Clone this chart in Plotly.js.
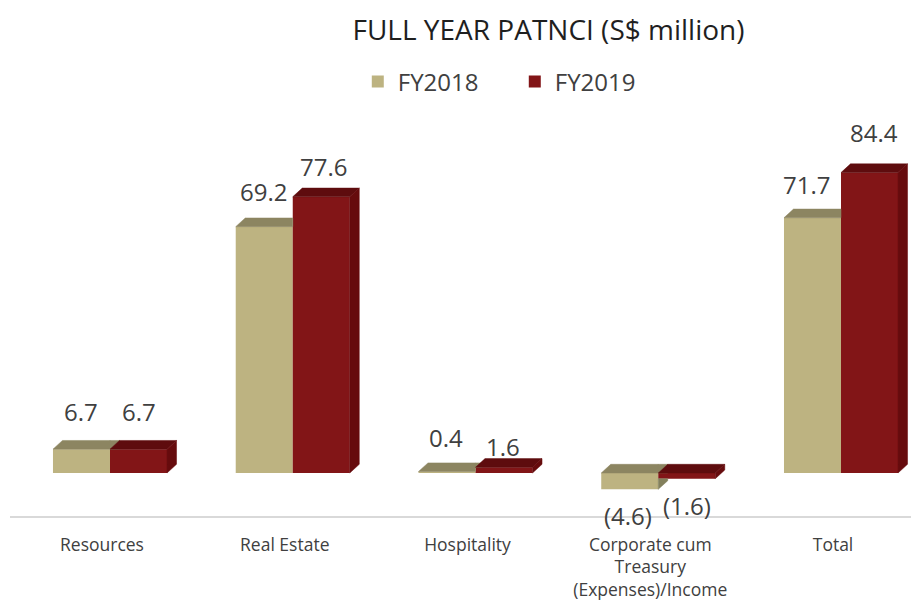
<!DOCTYPE html>
<html><head><meta charset="utf-8">
<script src="https://cdn.plot.ly/plotly-3.0.1.min.js"></script>
<style>html,body{margin:0;padding:0;background:#fff}#chart{width:911px;height:601px}</style>
</head><body><div id="chart"></div>
<script>
// ---- data ----
const categories = ['Resources', 'Real Estate', 'Hospitality', 'Corporate cum<br>Treasury<br>(Expenses)/Income', 'Total'];
const seriesNames = ['FY2018', 'FY2019'];
const fy2018 = [6.7, 69.2, 0.4, -4.6, 71.7];
const fy2019 = [6.7, 77.6, 1.6, -1.6, 84.4];
const chartTitle = 'FULL YEAR PATNCI (S$ million)';

// ---- style ----
const FRONT = ['#BDB381', '#821517'];
const TOP = ['#8C8561', '#5E0C0E'];
const SIDE = ['#83805C', '#660B0D'];
const BAR_W = 0.312;
const DEPTH_X = 0.052;   // category units
const DEPTH_Y = 2.44;    // value units
const LABEL_SHIFT = [
  [[0, 38], [-1, 35], [-1, 34], [-2, -26], [-6, 33]],
  [[0, 38], [2, 30], [-1, 21], [0, -27], [4, 40]]
];
const FONT = 'Open Sans, Noto Sans, sans-serif';

const series = [fy2018, fy2019];
const idx = categories.map((_, i) => i);
const offsets = [-BAR_W, 0];

function clip(poly, k, c, keepGE) {
  const out = [];
  const n = poly.length;
  for (let j = 0; j < n; j++) {
    const A = poly[j], B = poly[(j + 1) % n];
    const ia = keepGE ? A[k] >= c : A[k] <= c;
    const ib = keepGE ? B[k] >= c : B[k] <= c;
    if (ia) out.push(A);
    if (ia !== ib) {
      const t = (c - A[k]) / (B[k] - A[k]);
      out.push([A[0] + t * (B[0] - A[0]), A[1] + t * (B[1] - A[1])]);
    }
  }
  return out;
}
function area(p) {
  let s = 0;
  for (let j = 0; j < p.length; j++) {
    const a = p[j], b = p[(j + 1) % p.length];
    s += a[0] * b[1] - b[0] * a[1];
  }
  return Math.abs(s / 2);
}
function faces(si) {
  const tops = [], sides = [];
  series[si].forEach((v, i) => {
    const x0 = i + offsets[si], x1 = x0 + BAR_W;
    const t = Math.max(v, 0), b = Math.min(v, 0);
    const top = [[x0, t], [x1, t], [x1 + DEPTH_X, t + DEPTH_Y], [x0 + DEPTH_X, t + DEPTH_Y]];
    const side = [[x1, b], [x1, t], [x1 + DEPTH_X, t + DEPTH_Y], [x1 + DEPTH_X, b + DEPTH_Y]];
    let topPieces = [top], sidePieces = [side];
    if (si === 0) {
      // remove what the next (nearer-right) bar's front face hides
      const X1 = i + offsets[1];
      const lo = Math.min(0, series[1][i]), hi = Math.max(0, series[1][i]);
      const sub = P => {
        const right = clip(P, 0, X1, true);
        return [clip(P, 0, X1, false), clip(right, 1, hi, true), clip(right, 1, lo, false)];
      };
      topPieces = sub(top);
      sidePieces = sub(side);
    }
    topPieces.forEach(p => { if (p.length >= 3 && area(p) > 1e-5) tops.push(p); });
    sidePieces.forEach(p => { if (p.length >= 3 && area(p) > 1e-5) sides.push(p); });
  });
  return { tops, sides };
}
function polyTrace(polys, color) {
  const x = [], y = [];
  polys.forEach((p, k) => {
    if (k > 0) { x.push(null); y.push(null); }
    p.forEach(pt => { x.push(pt[0]); y.push(pt[1]); });
    x.push(p[0][0]); y.push(p[0][1]);
  });
  return {
    type: 'scatter', mode: 'lines', x, y, fill: 'toself', fillcolor: color,
    line: { color: color, width: 0.5 }, hoverinfo: 'skip', showlegend: false
  };
}

const traces = [];
series.forEach((vals, si) => {
  traces.push({
    type: 'bar', name: seriesNames[si], x: idx, y: vals,
    offset: offsets[si], width: BAR_W,
    marker: { color: FRONT[si], line: { width: 0 } },
    hovertemplate: '%{y}<extra>' + seriesNames[si] + '</extra>'
  });
});
series.forEach((vals, si) => {
  const f = faces(si);
  traces.push(polyTrace(f.tops, TOP[si]));
  traces.push(polyTrace(f.sides, SIDE[si]));
});

const fmt = v => v < 0 ? '(' + Math.abs(v).toFixed(1) + ')' : v.toFixed(1);
const annotations = [];
series.forEach((vals, si) => {
  vals.forEach((v, i) => {
    annotations.push({
      x: i + offsets[si] + BAR_W / 2, y: v, xref: 'x', yref: 'y',
      text: fmt(v), showarrow: false, xanchor: 'center', yanchor: 'middle',
      xshift: LABEL_SHIFT[si][i][0], yshift: LABEL_SHIFT[si][i][1],
      font: { family: FONT, size: 24, color: '#404040' }
    });
  });
});

const layout = {
  width: 911, height: 601,
  margin: { l: 10, r: 0, t: 110, b: 85 },
  paper_bgcolor: '#ffffff', plot_bgcolor: '#ffffff',
  barmode: 'overlay',
  title: {
    text: chartTitle, font: { family: FONT, size: 28, color: '#1f1f1f' },
    x: 548.5 / 911, xref: 'container', xanchor: 'center',
    y: 1 - 30 / 601, yref: 'container', yanchor: 'middle'
  },
  showlegend: true,
  legend: {
    orientation: 'h', x: 0.386, xanchor: 'left', y: 1.069, yanchor: 'middle',
    font: { family: FONT, size: 24, color: '#404040' },
    entrywidth: 112, traceorder: 'normal', bgcolor: 'rgba(0,0,0,0)'
  },
  xaxis: {
    type: 'linear', range: [-0.5472, 4.383], tickmode: 'array', tickvals: idx, ticktext: categories,
    showline: true, linecolor: '#d9d9d9', linewidth: 1.5, showgrid: false, zeroline: false,
    ticks: '', ticklabelshift: -8, ticklabelstandoff: 12,
    tickfont: { family: FONT, size: 17.5, color: '#404040' }, fixedrange: true
  },
  yaxis: {
    range: [-12.08, 101.97], visible: false, showgrid: false, zeroline: false, fixedrange: true
  },
  annotations: annotations
};

Plotly.newPlot('chart', traces, layout, { displayModeBar: false, staticPlot: true });
</script>
</body></html>
